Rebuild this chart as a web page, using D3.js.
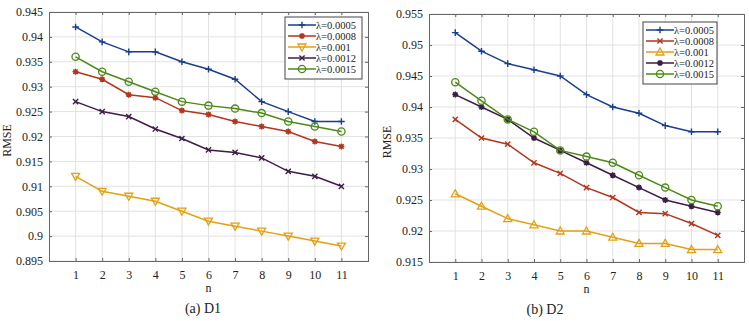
<!DOCTYPE html>
<html>
<head>
<meta charset="utf-8">
<script src="https://cdn.jsdelivr.net/npm/d3@7"></script>
<style>
  body { margin: 0; background: #fff; }
  svg text { font-family: "Liberation Serif", "DejaVu Serif", serif; fill: #222; }
</style>
</head>
<body>
<div id="chart"></div>
<script>
// x values shared by both panels
const nValues = [1, 2, 3, 4, 5, 6, 7, 8, 9, 10, 11];
const lambdaLabels = ["λ=0.0005", "λ=0.0008", "λ=0.001", "λ=0.0012", "λ=0.0015"];

// D1 series
const d1_0005 = [0.942, 0.939, 0.937, 0.937, 0.935, 0.9335, 0.9315, 0.927, 0.925, 0.923, 0.923];
const d1_0008 = [0.933, 0.9315, 0.9284, 0.9278, 0.9252, 0.9244, 0.923, 0.922, 0.921, 0.919, 0.918];
const d1_001  = [0.912, 0.909, 0.908, 0.907, 0.905, 0.903, 0.902, 0.901, 0.900, 0.899, 0.898];
const d1_0012 = [0.927, 0.925, 0.924, 0.9215, 0.9196, 0.9173, 0.9168, 0.9157, 0.913, 0.912, 0.910];
const d1_0015 = [0.936, 0.933, 0.931, 0.929, 0.927, 0.9262, 0.9256, 0.9247, 0.923, 0.922, 0.921];

// D2 series
const d2_0005 = [0.952, 0.949, 0.947, 0.946, 0.945, 0.942, 0.940, 0.939, 0.937, 0.936, 0.936];
const d2_0008 = [0.938, 0.935, 0.934, 0.931, 0.9293, 0.927, 0.9254, 0.923, 0.9228, 0.9212, 0.9193];
const d2_001  = [0.926, 0.924, 0.922, 0.921, 0.920, 0.920, 0.919, 0.918, 0.918, 0.917, 0.917];
const d2_0012 = [0.942, 0.940, 0.938, 0.935, 0.933, 0.931, 0.929, 0.927, 0.925, 0.924, 0.923];
const d2_0015 = [0.944, 0.941, 0.938, 0.936, 0.933, 0.932, 0.931, 0.929, 0.927, 0.925, 0.924];

// y tick labels
const d1Ticks = [0.895, 0.9, 0.905, 0.91, 0.915, 0.92, 0.925, 0.93, 0.935, 0.94, 0.945];
const d2Ticks = [0.915, 0.92, 0.925, 0.93, 0.935, 0.94, 0.945, 0.95, 0.955];

const colors = ["#173f8c", "#b3361c", "#e3a012", "#3d1c46", "#4b8a16"];

const svg = d3.select("#chart").append("svg")
  .attr("width", 749).attr("height", 321);

const fmt = d => String(+d.toFixed(3));

function marker(g, shape, color, x, y) {
  const s = 3.3;
  if (shape === "plus") {
    g.append("path").attr("d", `M${x - s},${y}H${x + s}M${x},${y - s}V${y + s}`)
      .attr("stroke", color).attr("stroke-width", 1.4);
  } else if (shape === "x") {
    g.append("path").attr("d", `M${x - 2.6},${y - 2.6}L${x + 2.6},${y + 2.6}M${x - 2.6},${y + 2.6}L${x + 2.6},${y - 2.6}`)
      .attr("stroke", color).attr("stroke-width", 1.4);
  } else if (shape === "star") {
    g.append("path").attr("d", `M${x - 3},${y}H${x + 3}M${x},${y - 3}V${y + 3}M${x - 2.2},${y - 2.2}L${x + 2.2},${y + 2.2}M${x - 2.2},${y + 2.2}L${x + 2.2},${y - 2.2}`)
      .attr("stroke", color).attr("stroke-width", 1.5);
    g.append("circle").attr("cx", x).attr("cy", y).attr("r", 1.6).attr("fill", color);
  } else if (shape === "tridown") {
    g.append("path").attr("d", `M${x - 4},${y - 3}L${x + 4},${y - 3}L${x},${y + 4}Z`)
      .attr("fill", "none").attr("stroke", color).attr("stroke-width", 1.3);
  } else if (shape === "triup") {
    g.append("path").attr("d", `M${x - 4},${y + 3}L${x + 4},${y + 3}L${x},${y - 4}Z`)
      .attr("fill", "none").attr("stroke", color).attr("stroke-width", 1.3);
  } else if (shape === "circle") {
    g.append("circle").attr("cx", x).attr("cy", y).attr("r", 3.6)
      .attr("fill", "none").attr("stroke", color).attr("stroke-width", 1.3);
  }
}

function drawPanel(cfg) {
  const x = d3.scaleLinear().domain([0, 12]).range([cfg.left, cfg.right]);
  const y = d3.scaleLinear().domain(cfg.yDomain).range([cfg.bottom, cfg.top]);
  const g = svg.append("g");

  // grid
  g.append("g").selectAll("line").data(nValues).join("line")
    .attr("x1", d => x(d)).attr("x2", d => x(d))
    .attr("y1", cfg.top).attr("y2", cfg.bottom)
    .attr("stroke", "#e2e2e2").attr("stroke-width", 1);
  g.append("g").selectAll("line").data(cfg.ticks).join("line")
    .attr("x1", cfg.left).attr("x2", cfg.right)
    .attr("y1", d => y(d)).attr("y2", d => y(d))
    .attr("stroke", "#e2e2e2").attr("stroke-width", 1);

  // axes (box with inward ticks)
  const axB = g.append("g").attr("transform", `translate(0,${cfg.bottom})`)
    .call(d3.axisBottom(x).tickValues(nValues).tickSize(-3).tickPadding(9).tickFormat(d3.format("d")));
  const axT = g.append("g").attr("transform", `translate(0,${cfg.top})`)
    .call(d3.axisTop(x).tickValues(nValues).tickSize(-3).tickFormat(""));
  const axL = g.append("g").attr("transform", `translate(${cfg.left},0)`)
    .call(d3.axisLeft(y).tickValues(cfg.ticks).tickSize(-3).tickPadding(6).tickFormat(fmt));
  const axR = g.append("g").attr("transform", `translate(${cfg.right},0)`)
    .call(d3.axisRight(y).tickValues(cfg.ticks).tickSize(-3).tickFormat(""));
  [axB, axT, axL, axR].forEach(a => {
    a.select(".domain").attr("stroke", "#666");
    a.selectAll(".tick line").attr("stroke", "#666");
    a.selectAll("text").attr("font-size", 12).attr("font-family", "Liberation Serif").attr("fill", "#222");
  });

  // lines + markers
  const line = d3.line().x((d, i) => x(nValues[i])).y(d => y(d));
  cfg.series.forEach((s, k) => {
    g.append("path").datum(s).attr("d", line)
      .attr("fill", "none").attr("stroke", colors[k]).attr("stroke-width", 1.5);
    const mg = g.append("g");
    s.forEach((v, i) => marker(mg, cfg.shapes[k], colors[k], x(nValues[i]), y(v)));
  });

  // labels
  g.append("text").attr("x", x(6)).attr("y", cfg.bottom + 31)
    .attr("text-anchor", "middle").attr("font-size", 12).text("n");
  g.append("text").attr("transform", `translate(${cfg.left - 38},${(cfg.top + cfg.bottom) / 2 + 4}) rotate(-90)`)
    .attr("text-anchor", "middle").attr("font-size", 12).text("RMSE");
  g.append("text").attr("x", cfg.titleX).attr("y", cfg.bottom + 52)
    .attr("text-anchor", "middle").attr("font-size", 14).text(cfg.title);

  // legend
  const L = cfg.legend;
  g.append("rect").attr("x", L.x).attr("y", L.y).attr("width", L.w).attr("height", L.h)
    .attr("fill", "#fff").attr("stroke", "#444").attr("stroke-width", 1);
  lambdaLabels.forEach((lab, k) => {
    const yy = L.y + 8 + k * 11;
    g.append("line").attr("x1", L.x + 3).attr("x2", L.x + 31).attr("y1", yy).attr("y2", yy)
      .attr("stroke", colors[k]).attr("stroke-width", 1.5);
    marker(g, cfg.shapes[k], colors[k], L.x + 17, yy);
    g.append("text").attr("x", L.x + 31).attr("y", yy + 3.5)
      .attr("font-size", 10.5).text(lab);
  });
}

drawPanel({
  left: 49, right: 368, top: 12, bottom: 261,
  yDomain: [0.895, 0.945], ticks: d1Ticks,
  series: [d1_0005, d1_0008, d1_001, d1_0012, d1_0015],
  shapes: ["plus", "star", "tridown", "x", "circle"],
  title: "(a) D1", titleX: 203,
  legend: { x: 285, y: 17, w: 77, h: 62 }
});

drawPanel({
  left: 429, right: 744, top: 14, bottom: 262,
  yDomain: [0.915, 0.955], ticks: d2Ticks,
  series: [d2_0005, d2_0008, d2_001, d2_0012, d2_0015],
  shapes: ["plus", "x", "triup", "star", "circle"],
  title: "(b) D2", titleX: 545,
  legend: { x: 643, y: 22, w: 74, h: 62 }
});
</script>
</body>
</html>
